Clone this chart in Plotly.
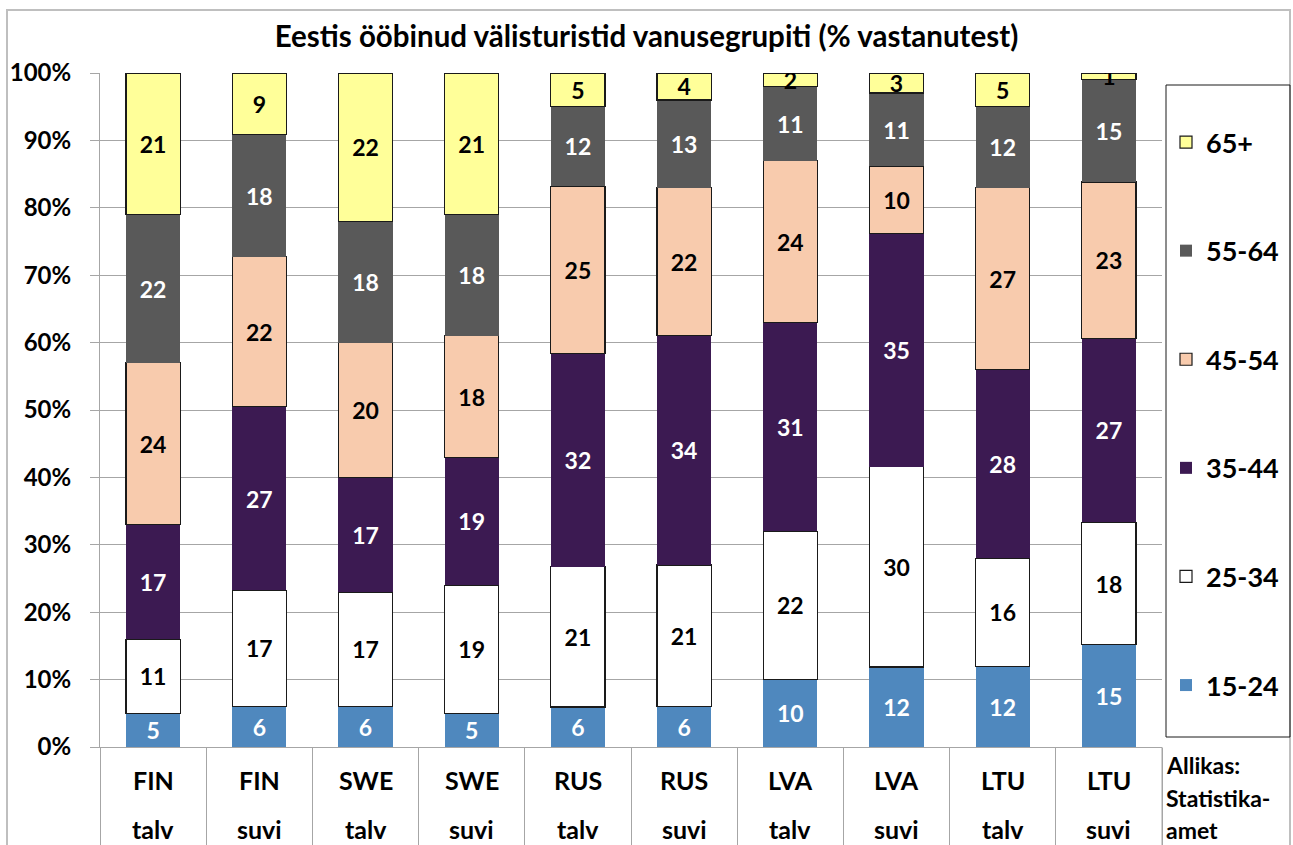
import plotly.graph_objects as go

countries = ["FIN", "FIN", "SWE", "SWE", "RUS", "RUS", "LVA", "LVA", "LTU", "LTU"]
seasons = ["talv", "suvi", "talv", "suvi", "talv", "suvi", "talv", "suvi", "talv", "suvi"]
categories = [f"{c} {s}" for c, s in zip(countries, seasons)]

age_groups = ["15-24", "25-34", "35-44", "45-54", "55-64", "65+"]
v_15_24 = [5, 6, 6, 5, 6, 6, 10, 12, 12, 15]
v_25_34 = [11, 17, 17, 19, 21, 21, 22, 30, 16, 18]
v_35_44 = [17, 27, 17, 19, 32, 34, 31, 35, 28, 27]
v_45_54 = [24, 22, 20, 18, 25, 22, 24, 10, 27, 23]
v_55_64 = [22, 18, 18, 18, 12, 13, 11, 11, 12, 15]
v_65 = [21, 9, 22, 21, 5, 4, 2, 3, 5, 1]
series = [v_15_24, v_25_34, v_35_44, v_45_54, v_55_64, v_65]

colors = ["#4F88BE", "#FFFFFF", "#3C1A52", "#F8CBAD", "#595959", "#FFFF99"]
text_colors = ["white", "black", "white", "black", "white", "black"]
outlined = [False, True, False, True, False, True]

y_ticks = list(range(0, 101, 10))
y_tick_labels = [f"{t}%" for t in y_ticks]

title_text = "Eestis ööbinud välisturistid vanusegrupiti (% vastanutest)"
source_lines = ["Allikas:", "Statistika-", "amet"]

FONT = "Lato"
W, H = 1293, 845
L, R, T, B = 100, 131, 73, 98
pw, ph = W - L - R, H - T - B

def px_x(p):
    return (p - L) / pw

def px_y(q):
    return (H - B - q) / ph

fig = go.Figure()
n = len(age_groups)
for i, (name, vals, col, tcol, outl) in enumerate(zip(age_groups, series, colors, text_colors, outlined)):
    fig.add_trace(go.Bar(
        x=categories, y=vals, name=name, text=vals,
        texttemplate="%{text}", textposition="inside", textangle=0,
        insidetextanchor="middle", constraintext="none",
        textfont=dict(family=FONT, size=23, color=tcol, weight="bold"),
        marker=dict(color=col, line=dict(color="#1a1a1a" if outl else col, width=1.2 if outl else 0)),
        width=0.51, legendgroup=name, legendrank=n - i,
    ))

fig.update_layout(
    width=W, height=H,
    margin=dict(l=L, r=R, t=T, b=B, autoexpand=False),
    barmode="stack", barnorm="percent",
    plot_bgcolor="white", paper_bgcolor="white",
    uniformtext=dict(minsize=23, mode="show"),
    title=dict(text=title_text, x=0.5, xref="container", y=(H - 37) / H,
               yref="container", yanchor="middle", xanchor="center",
               font=dict(family=FONT, size=29.5, color="black", weight="bold")),
    showlegend=True,
    legend=dict(traceorder="grouped", tracegroupgap=70.5,
                x=px_x(1166), xanchor="left", y=px_y(118), yanchor="top",
                bgcolor="rgba(0,0,0,0)",
                font=dict(family=FONT, size=27, color="black", weight="bold")),
    xaxis=dict(type="category", showticklabels=False, ticks="outside",
               tickson="boundaries", ticklen=B + 5, tickcolor="#a6a6a6",
               showline=True, linecolor="#a6a6a6", linewidth=1,
               showgrid=False, range=[-0.5, 9.5]),
    yaxis=dict(range=[0, 100], tickvals=y_ticks, ticktext=y_tick_labels,
               ticks="outside", ticklen=9, tickcolor="#a6a6a6",
               ticklabelstandoff=14,
               showline=True, linecolor="#a6a6a6", gridcolor="#a6a6a6",
               gridwidth=1, zeroline=False,
               tickfont=dict(family=FONT, size=24, color="black", weight="bold")),
)

# category labels (two rows)
for cat, c, s in zip(categories, countries, seasons):
    fig.add_annotation(x=cat, xref="x", y=px_y(780), yref="paper", text=c,
                       showarrow=False, yanchor="middle",
                       font=dict(family=FONT, size=25, color="black", weight="bold"))
    fig.add_annotation(x=cat, xref="x", y=px_y(829), yref="paper", text=s,
                       showarrow=False, yanchor="middle",
                       font=dict(family=FONT, size=25, color="black", weight="bold"))

for line, ypx in zip(source_lines, [765, 798, 830]):
    fig.add_annotation(x=px_x(1164), xref="paper", xanchor="left", y=px_y(ypx),
                       yref="paper", yanchor="middle", text=line, align="left",
                       showarrow=False,
                       font=dict(family=FONT, size=23, color="black", weight="bold"))

# outer chart border
fig.add_shape(type="rect", xref="paper", yref="paper",
              x0=px_x(7), x1=px_x(1290), y0=px_y(870), y1=px_y(10),
              line=dict(color="#bfbfbf", width=2), layer="below")
# legend box
fig.add_shape(type="rect", xref="paper", yref="paper",
              x0=px_x(1166), x1=px_x(1290), y0=px_y(737), y1=px_y(85),
              line=dict(color="#1a1a1a", width=1))
# right boundary line of category area
fig.add_shape(type="line", xref="paper", yref="paper",
              x0=1, x1=1, y0=0, y1=px_y(850),
              line=dict(color="#a6a6a6", width=1))

fig.write_html("out.html", config={"displayModeBar": False},
               post_script="document.body.style.margin='0';document.body.style.overflow='hidden';")
